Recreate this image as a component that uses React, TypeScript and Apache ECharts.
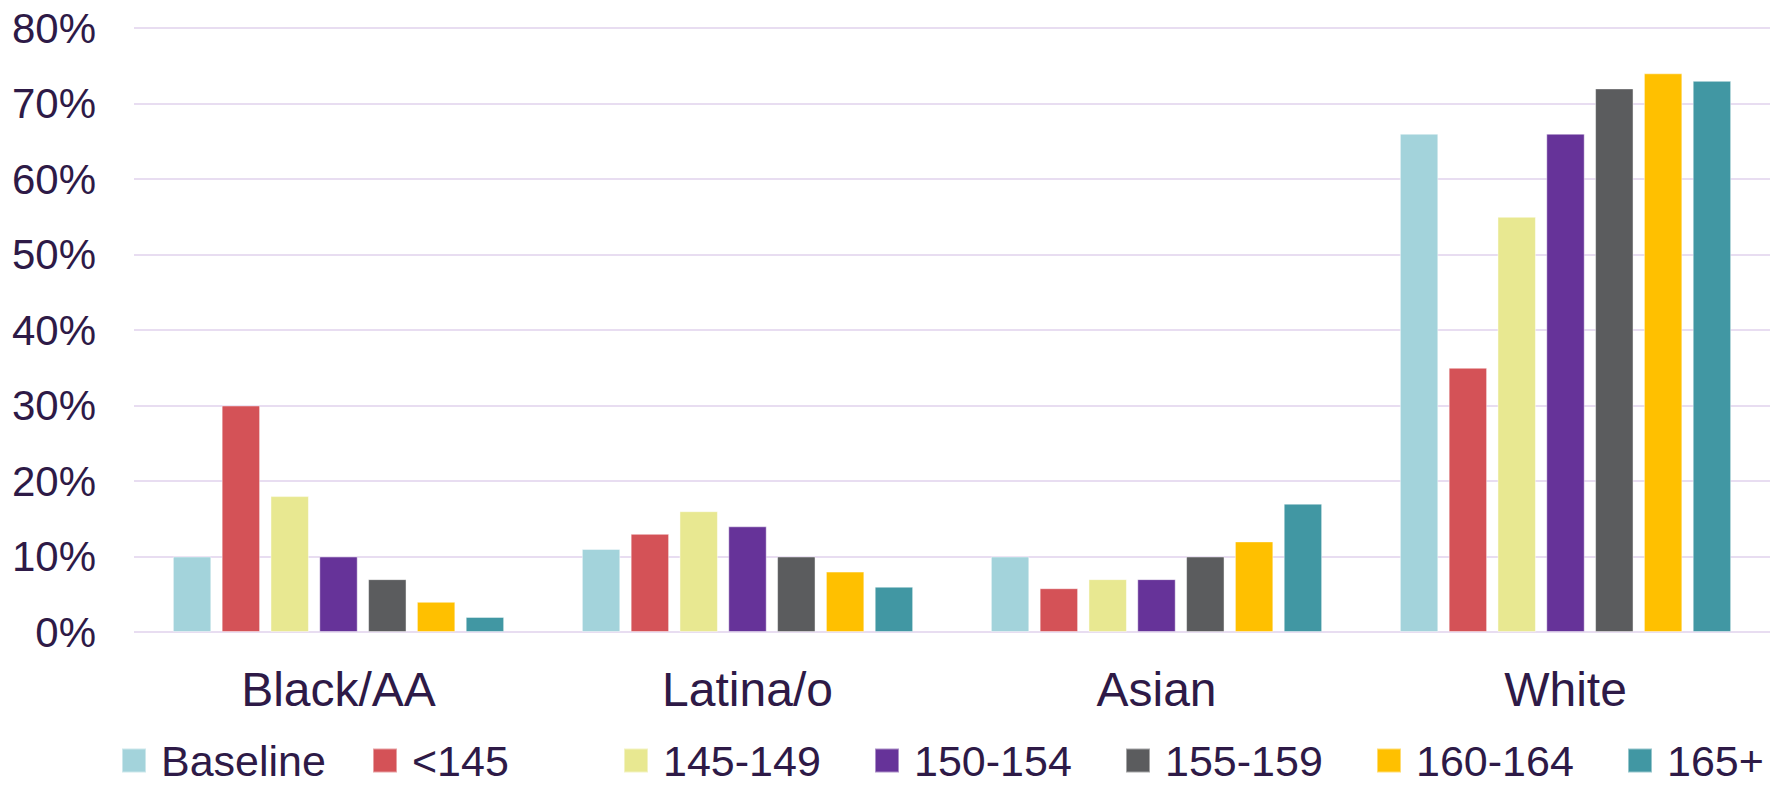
import React, { useEffect, useRef } from "react";
import * as echarts from "echarts";

const categories = ["Black/AA", "Latina/o", "Asian", "White"];
const seriesNames = ["Baseline", "<145", "145-149", "150-154", "155-159", "160-164", "165+"];
const baseline = [10, 11, 10, 66];
const lt145 = [30, 13, 5.8, 35];
const s145_149 = [18, 16, 7, 55];
const s150_154 = [10, 14, 7, 66];
const s155_159 = [7, 10, 10, 72];
const s160_164 = [4, 8, 12, 74];
const s165plus = [2, 6, 17, 73];
const yTicks = [0, 10, 20, 30, 40, 50, 60, 70, 80];
const colors = ["#A3D3DB", "#D45257", "#E8E891", "#663399", "#5B5C5E", "#FFC000", "#4197A3"];

const seriesValues = [baseline, lt145, s145_149, s150_154, s155_159, s160_164, s165plus];
const textColor = "#2E1A47";
const fontFamily = "'Liberation Sans', Arial, sans-serif";

export default function App() {
  const ref = useRef<HTMLDivElement>(null);
  useEffect(() => {
    if (!ref.current) return;
    const chart = echarts.init(ref.current, null, { renderer: "svg" });
    chart.setOption({
      animation: false,
      grid: { left: 134, right: 7, top: 28, bottom: 155, containLabel: false },
      legend: seriesNames.map((name, i) => ({
        data: [name],
        left: 121 + i * 251,
        top: 739,
        padding: 0,
        itemWidth: 24,
        itemHeight: 24,
        icon: "rect",
        textStyle: {
          color: textColor,
          fontSize: 43,
          fontFamily,
          lineHeight: 40,
          padding: [0, 0, 0, 10],
        },
      })),
      xAxis: {
        type: "category",
        data: categories,
        axisLine: { show: false },
        axisTick: { show: false },
        axisLabel: {
          color: textColor,
          fontSize: 48,
          fontFamily,
          lineHeight: 56,
          margin: 29,
        },
      },
      yAxis: {
        type: "value",
        min: yTicks[0],
        max: yTicks[yTicks.length - 1],
        interval: 10,
        axisLine: { show: false },
        axisTick: { show: false },
        axisLabel: {
          color: textColor,
          fontSize: 42,
          fontFamily,
          margin: 38,
          formatter: (v: number) => `${v}%`,
        },
        splitLine: { lineStyle: { color: "#E8DDF1", width: 2 } },
      },
      series: seriesNames.map((name, i) => ({
        name,
        type: "bar",
        data: seriesValues[i],
        barGap: "27%",
        barCategoryGap: "19%",
        itemStyle: {
          color: colors[i],
          borderColor: "rgba(255,255,255,0.45)",
          borderWidth: 1,
        },
      })),
    });
    return () => chart.dispose();
  }, []);
  return <div ref={ref} style={{ width: 1777, height: 787, position: "absolute", left: 0, top: 0 }} />;
}
